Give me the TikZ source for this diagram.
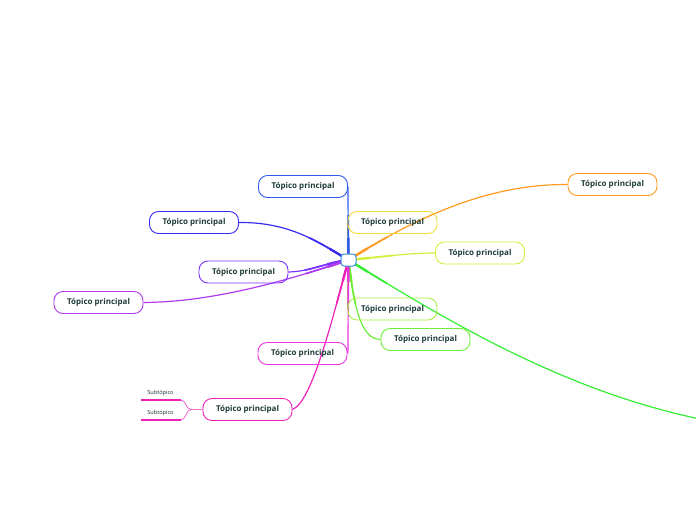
\documentclass[tikz,border=0pt]{standalone}
\usepackage{fontspec}
\setmainfont{Open Sans}
\usetikzlibrary{backgrounds}
\definecolor{cblue}{HTML}{2F5BF0}
\definecolor{cyellow}{HTML}{F2DD3A}
\definecolor{corange}{HTML}{FF9A1F}
\definecolor{cyg}{HTML}{D2EE3A}
\definecolor{clime}{HTML}{A6EE44}
\definecolor{cgreen}{HTML}{6CEE36}
\definecolor{cbright}{HTML}{33EE33}
\definecolor{cbv}{HTML}{3A2BEE}
\definecolor{cviolet}{HTML}{7A33FF}
\definecolor{cpurple}{HTML}{B03BEE}
\definecolor{cmagenta}{HTML}{EE33E0}
\definecolor{cpink}{HTML}{EE22BB}
\definecolor{ctext}{HTML}{1C3A38}
\definecolor{ccenter}{HTML}{3A8FD8}
\tikzset{
  topic/.style={draw=#1, line width=0.9pt, rounded corners=9pt, minimum width=89pt, minimum height=22pt,
    inner sep=0pt, text=ctext, font=\fontsize{8}{9}\selectfont\bfseries},
  link/.style={draw=#1},
  sub/.style={text=ctext!80!black, font=\fontsize{5.6}{6}\selectfont, inner sep=0pt},
}
\newcommand\mmlinks[1]{%
\begin{scope}[line width=#1]
\draw[link=cyellow] (c.center) -- (348,240) .. controls (348,228) .. (b2.west);
\draw[link=cblue] (c.center) -- (348,198) .. controls (348,188) .. (b1.east);
\draw[link=corange] (c.center) .. controls (420,215) and (490,184) .. (b3.west);
\draw[link=cyg] (c.center) .. controls (390,256) and (410,253) .. (b4.west);
\draw[link=clime] (c.center) -- (348,290) .. controls (348,305) .. (b5.west);
\draw[link=cgreen] (c.center) .. controls (354,305) and (360,339) .. (b6.west);
\draw[link=cbright] (c.center) .. controls (440,316) and (560,390) .. (gend);
\draw[link=cbv] (c.center) .. controls (318,242) and (290,222) .. (b8.east);
\draw[link=cviolet] (c.center) .. controls (325,263) and (310,271.5) .. (b9.east);
\draw[link=cpurple] (c.center) .. controls (300,276) and (220,302) .. (b10.east);
\draw[link=cmagenta] (c.center) -- (348,340) .. controls (348,352) .. (b11.east);
\draw[link=cpink] (c.center) .. controls (332,320) and (312,402) .. (b12.east);
\end{scope}}
\begin{document}
\begin{tikzpicture}[x=1pt,y=-1pt]
\useasboundingbox (0,0) rectangle (696,520);
\node[fill=white, draw=ccenter, line width=1pt, rounded corners=3pt, minimum width=15pt, minimum height=12pt, inner sep=0pt] (c) at (348.5,260) {};
\node[topic=cblue] (b1) at (303,186.5) {Tópico principal};
\node[topic=cyellow] (b2) at (392.5,222.5) {Tópico principal};
\node[topic=corange] (b3) at (612.5,184.5) {Tópico principal};
\node[topic=cyg] (b4) at (480,253) {Tópico principal};
\node[topic=clime] (b5) at (392.5,309) {Tópico principal};
\node[topic=cgreen] (b6) at (425.5,339.5) {Tópico principal};
\node[topic=cbv] (b8) at (194,222.5) {Tópico principal};
\node[topic=cviolet] (b9) at (243.5,272) {Tópico principal};
\node[topic=cpurple] (b10) at (98.5,302.5) {Tópico principal};
\node[topic=cmagenta] (b11) at (302.5,353.5) {Tópico principal};
\node[topic=cpink] (b12) at (247.5,409.5) {Tópico principal};
\node[sub] (s1) at (160.5,393) {Subtópico};
\node[sub] (s2) at (160.5,413) {Subtópico};
\coordinate (s1a) at (141,400);
\coordinate (s1b) at (181,400);
\coordinate (s2a) at (141,420);
\coordinate (s2b) at (181,420);
\coordinate (gend) at (700,419);
\begin{scope}[on background layer]
\mmlinks{1.2pt}
\begin{scope}
\clip (c.center) circle (45);
\mmlinks{1.7pt}
\end{scope}
\begin{scope}
\clip (c.center) circle (22);
\mmlinks{2.4pt}
\end{scope}
\draw[draw=cpink, line width=0.5pt] (b12.west) -- (191,409.5) .. controls (186,409.5) and (186,400) .. (s1b);
\draw[draw=cpink, line width=0.5pt] (191,409.5) .. controls (186,409.5) and (186,420) .. (s2b);
\draw[draw=cpink, line width=1.3pt] (s1a) -- (s1b);
\draw[draw=cpink, line width=1.3pt] (s2a) -- (s2b);
\end{scope}
\end{tikzpicture}
\end{document}
